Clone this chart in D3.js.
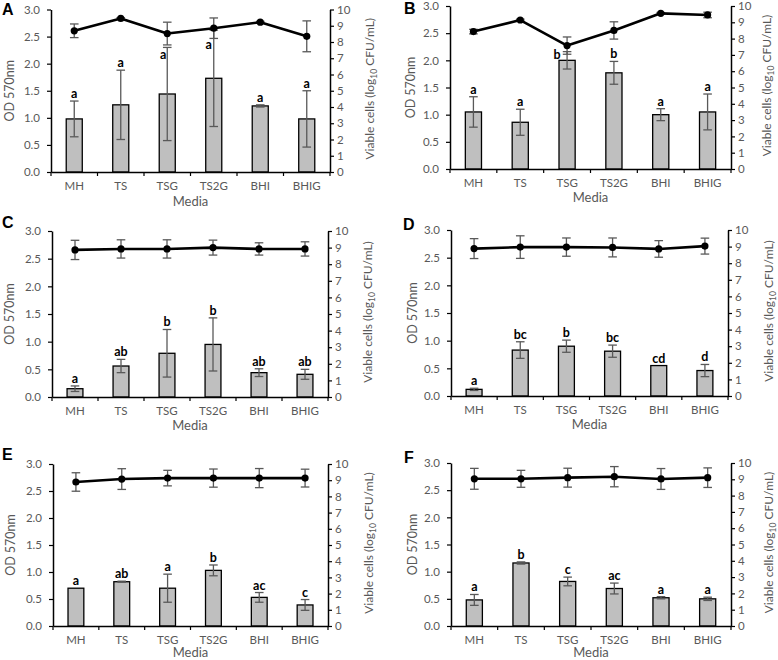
<!DOCTYPE html>
<html><head><meta charset="utf-8">
<script src="https://cdn.jsdelivr.net/npm/d3@7"></script>
<style>body{margin:0;background:#fff}svg{display:block}</style>
</head><body>
<script>
const categories = ["MH", "TS", "TSG", "TS2G", "BHI", "BHIG"];
const odTicks = [0, 0.5, 1.0, 1.5, 2.0, 2.5, 3.0];
const cellTicks = [0, 1, 2, 3, 4, 5, 6, 7, 8, 9, 10];

// Panel A
const odA = [0.98, 1.24, 1.44, 1.73, 1.22, 0.98];
const odErrA = [0.33, 0.64, 0.86, 0.89, 0.02, 0.52];
const cellsA = [8.69, 9.45, 8.52, 8.85, 9.22, 8.35];
const cellsErrA = [0.42, 0.05, 0.70, 0.63, 0.05, 0.95];
const lettersA = ["a", "a", "a", "a", "a", "a"];
// Panel B
const odB = [1.05, 0.86, 2.00, 1.77, 1.00, 1.05];
const odErrB = [0.28, 0.24, 0.16, 0.21, 0.11, 0.33];
const cellsB = [8.43, 9.14, 7.57, 8.50, 9.55, 9.45];
const cellsErrB = [0.14, 0.05, 0.53, 0.53, 0.05, 0.17];
const lettersB = ["a", "a", "b", "b", "a", "a"];
// Panel C
const odC = [0.15, 0.56, 0.79, 0.95, 0.44, 0.41];
const odErrC = [0.05, 0.12, 0.43, 0.48, 0.07, 0.09];
const cellsC = [8.86, 8.92, 8.92, 9.00, 8.92, 8.92];
const cellsErrC = [0.58, 0.55, 0.55, 0.45, 0.37, 0.43];
const lettersC = ["a", "ab", "b", "b", "ab", "ab"];
// Panel D
const odD = [0.12, 0.83, 0.90, 0.81, 0.55, 0.46];
const odErrD = [0.02, 0.15, 0.11, 0.11, 0.00, 0.11];
const cellsD = [8.88, 8.97, 8.97, 8.95, 8.86, 9.03];
const cellsErrD = [0.60, 0.68, 0.55, 0.57, 0.50, 0.48];
const lettersD = ["a", "bc", "b", "bc", "cd", "d"];
// Panel E
const odE = [0.70, 0.82, 0.70, 1.03, 0.53, 0.39];
const odErrE = [0.00, 0.01, 0.26, 0.10, 0.09, 0.10];
const cellsE = [8.89, 9.07, 9.13, 9.13, 9.13, 9.13];
const cellsErrE = [0.57, 0.64, 0.48, 0.56, 0.59, 0.55];
const lettersE = ["a", "ab", "a", "b", "ac", "c"];
// Panel F
const odF = [0.48, 1.16, 0.82, 0.69, 0.52, 0.50];
const odErrF = [0.10, 0.02, 0.08, 0.10, 0.02, 0.03];
const cellsF = [9.03, 9.03, 9.10, 9.16, 9.02, 9.10];
const cellsErrF = [0.64, 0.52, 0.58, 0.62, 0.64, 0.60];
const lettersF = ["a", "b", "c", "ac", "a", "a"];

const FONT = "Lato, 'Open Sans', sans-serif";
const GREY = "#595959";

const panels = [
  {id:"A", od:odA, odErr:odErrA, cells:cellsA, cellsErr:cellsErrA, letters:lettersA,
   left:51, right:330, top:9.5, bottom:172, lx:2, ly:15, tl:13.5, tr:374, my:206,
   overrides:{2:{y:2.09, dx:-4}, 3:{y:2.28, dx:-5}}},
  {id:"B", od:odB, odErr:odErrB, cells:cellsB, cellsErr:cellsErrB, letters:lettersB,
   left:450, right:731, top:6, bottom:169, lx:404, ly:14, tl:414.5, tr:771, my:202,
   overrides:{2:{y:2.03, dx:-10}}},
  {id:"C", od:odC, odErr:odErrC, cells:cellsC, cellsErr:cellsErrC, letters:lettersC,
   left:52, right:328, top:231, bottom:397, lx:2, ly:228, tl:14, tr:372, my:430, overrides:{}},
  {id:"D", od:odD, odErr:odErrD, cells:cellsD, cellsErr:cellsErrD, letters:lettersD,
   left:451, right:728, top:230, bottom:396, lx:403, ly:230, tl:416.5, tr:773, my:429, overrides:{}},
  {id:"E", od:odE, odErr:odErrE, cells:cellsE, cellsErr:cellsErrE, letters:lettersE,
   left:53, right:328, top:464, bottom:626, lx:2, ly:460, tl:15, tr:373, my:657, overrides:{}},
  {id:"F", od:odF, odErr:odErrF, cells:cellsF, cellsErr:cellsErrF, letters:lettersF,
   left:451, right:731, top:463, bottom:626, lx:404, ly:463, tl:416.5, tr:773, my:657, overrides:{}}
];

const svg = d3.select("body").append("svg").attr("width", 778).attr("height", 660)
  .style("font-family", FONT);

function drawPanel(p) {
  const g = svg.append("g");
  const x = d3.scaleBand().domain(categories).range([p.left, p.right]);
  const yL = d3.scaleLinear().domain([0, 3]).range([p.bottom, p.top]);
  const yR = d3.scaleLinear().domain([0, 10]).range([p.bottom, p.top]);
  const cx = c => x(c) + x.bandwidth() / 2;
  const bw = x.bandwidth() * 0.345;
  const cap = 4.3;
  const rows = categories.map((c, i) => ({c, i, od:p.od[i], oe:p.odErr[i], v:p.cells[i], ve:p.cellsErr[i], l:p.letters[i]}));

  // bars
  g.selectAll("rect.bar").data(rows).join("rect")
    .attr("x", d => cx(d.c) - bw / 2).attr("y", d => yL(d.od))
    .attr("width", bw).attr("height", d => yL(0) - yL(d.od))
    .attr("fill", "#bfbfbf").attr("stroke", "#000").attr("stroke-width", 1.3);

  function errBars(sel, yScale, mean, err) {
    const e = sel.selectAll(null).data(rows.filter(d => d[err] > 0)).join("g")
      .attr("stroke", GREY).attr("stroke-width", 1.3).attr("fill", "none");
    e.append("line").attr("x1", d => cx(d.c)).attr("x2", d => cx(d.c))
      .attr("y1", d => yScale(d[mean] - d[err])).attr("y2", d => yScale(d[mean] + d[err]));
    e.append("line").attr("x1", d => cx(d.c) - cap).attr("x2", d => cx(d.c) + cap)
      .attr("y1", d => yScale(d[mean] - d[err])).attr("y2", d => yScale(d[mean] - d[err]));
    e.append("line").attr("x1", d => cx(d.c) - cap).attr("x2", d => cx(d.c) + cap)
      .attr("y1", d => yScale(d[mean] + d[err])).attr("y2", d => yScale(d[mean] + d[err]));
  }
  errBars(g, yL, "od", "oe");
  errBars(g, yR, "v", "ve");

  const line = d3.line().x(d => cx(d.c)).y(d => yR(d.v));
  g.append("path").datum(rows).attr("d", line).attr("fill", "none")
    .attr("stroke", "#000").attr("stroke-width", 2.6).attr("stroke-linejoin", "round");
  g.selectAll("circle.pt").data(rows).join("circle")
    .attr("cx", d => cx(d.c)).attr("cy", d => yR(d.v)).attr("r", 3.6).attr("fill", "#000");

  g.selectAll("text.sig").data(rows).join("text")
    .attr("x", d => cx(d.c) + (p.overrides[d.i] ? p.overrides[d.i].dx : 0))
    .attr("y", d => p.overrides[d.i] ? yL(p.overrides[d.i].y) : yL(d.od + d.oe) - 3)
    .attr("text-anchor", "middle").attr("font-weight", "bold").attr("font-size", 12.5)
    .attr("fill", "#000").text(d => d.l);

  const ax = g.append("g").attr("transform", `translate(${p.left},0)`)
    .call(d3.axisLeft(yL).tickValues(odTicks).tickFormat(d3.format(".1f")).tickSize(4).tickSizeOuter(0).tickPadding(7));
  const ar = g.append("g").attr("transform", `translate(${p.right},0)`)
    .call(d3.axisRight(yR).tickValues(cellTicks).tickFormat(d3.format("d")).tickSize(4).tickSizeOuter(0).tickPadding(3));
  const ab = g.append("g").attr("transform", `translate(0,${p.bottom})`)
    .call(d3.axisBottom(x).tickSize(0).tickSizeOuter(0).tickPadding(10));
  const bounds = d3.range(categories.length + 1).map(k => p.left + k * x.step());
  ab.selectAll("line.bt").data(bounds).join("line")
    .attr("x1", d => d).attr("x2", d => d).attr("y1", 0).attr("y2", 4)
    .attr("stroke", "#000").attr("stroke-width", 1.2);

  [ax, ar, ab].forEach(a => {
    a.select(".domain").attr("stroke", "#000").attr("stroke-width", 1.5);
    a.selectAll(".tick line").attr("stroke", "#000").attr("stroke-width", 1.2);
    a.selectAll(".tick text").attr("fill", GREY).attr("font-size", 11.5).attr("font-family", FONT);
  });

  const mid = (p.top + p.bottom) / 2;
  g.append("text").attr("transform", `translate(${p.tl},${mid}) rotate(-90)`)
    .attr("text-anchor", "middle").attr("font-size", 12.5).attr("fill", GREY).text("OD 570nm");
  const rt = g.append("text").attr("transform", `translate(${p.tr},${mid - 2}) rotate(-90)`)
    .attr("text-anchor", "middle").attr("font-size", 12).attr("fill", GREY);
  rt.append("tspan").text("Viable cells (log");
  rt.append("tspan").attr("font-size", 8.5).attr("dy", 2.5).text("10");
  rt.append("tspan").attr("dy", -2.5).text(" CFU/mL)");
  g.append("text").attr("x", (p.left + p.right) / 2).attr("y", p.my)
    .attr("text-anchor", "middle").attr("font-size", 13).attr("fill", GREY).text("Media");

  g.append("text").attr("x", p.lx).attr("y", p.ly).attr("font-family", "'Liberation Sans', Arial, sans-serif")
    .attr("font-weight", "bold").attr("font-size", 16).attr("fill", "#000").text(p.id);
}

panels.forEach(drawPanel);
</script>
</body></html>
